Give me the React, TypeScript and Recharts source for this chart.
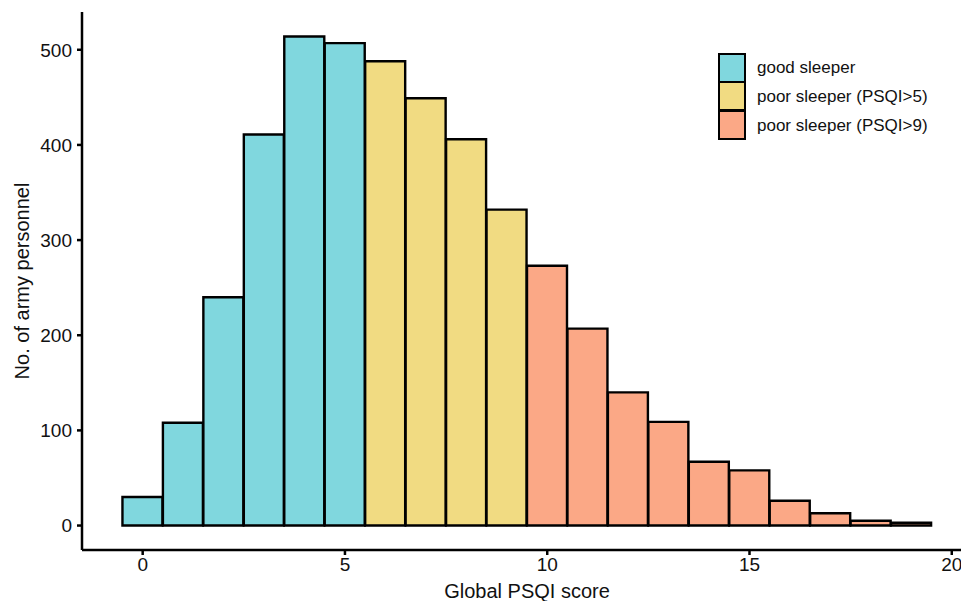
import { BarChart, Bar, XAxis, YAxis, Cell, Legend } from "recharts";

// PSQI score bins (0..19) and counts
const scores = [0, 1, 2, 3, 4, 5, 6, 7, 8, 9, 10, 11, 12, 13, 14, 15, 16, 17, 18, 19];
const counts = [30, 108, 240, 411, 514, 507, 488, 449, 406, 332, 273, 207, 140, 109, 67, 58, 26, 13, 5, 3];

const groupNames = ["good sleeper", "poor sleeper (PSQI>5)", "poor sleeper (PSQI>9)"];
const groupColors = ["#80D7DE", "#F1DB82", "#FBA886"];
// group index of each bin
const groupOf = [0, 0, 0, 0, 0, 0, 1, 1, 1, 1, 2, 2, 2, 2, 2, 2, 2, 2, 2, 2];

const xTicks = [0, 5, 10, 15, 20];
const yTicks = [0, 100, 200, 300, 400, 500];

const data = scores.map((s, i) => ({ score: s, count: counts[i], group: groupOf[i] }));

const font = "'Liberation Sans', Arial, sans-serif";

function LegendBox() {
  return (
    <div style={{ fontFamily: font, fontSize: 17, color: "#111" }}>
      {groupNames.map((name, i) => (
        <div key={name} style={{ display: "flex", alignItems: "center", height: 29 }}>
          <div
            style={{
              boxSizing: "border-box",
              width: 28,
              height: 30,
              marginTop: i === 0 ? 0 : -1,
              background: groupColors[i],
              border: "2.5px solid #000",
            }}
          />
          <span style={{ marginLeft: 11 }}>{name}</span>
        </div>
      ))}
    </div>
  );
}

export default function App() {
  return (
    <div style={{ position: "absolute", left: 0, top: 0, width: 961, height: 601, overflow: "hidden", background: "#fff" }}>
      <BarChart
        width={975}
        height={601}
        data={data}
        margin={{ top: 12, right: 3, bottom: 0, left: 0 }}
        barCategoryGap={0}
        barGap={0}
      >
        <XAxis
          dataKey="score"
          type="number"
          domain={[-1.5, 20.5]}
          ticks={xTicks}
          height={51}
          tickSize={5}
          tickMargin={3}
          axisLine={{ stroke: "#000", strokeWidth: 2.5 }}
          tickLine={{ stroke: "#000", strokeWidth: 2.5 }}
          tick={{ fill: "#111", fontSize: 19, fontFamily: font }}
          label={{ value: "Global PSQI score", position: "insideBottom", offset: 3, fill: "#111", fontSize: 20, fontFamily: font }}
        />
        <YAxis
          type="number"
          domain={[-25.7, 539.7]}
          ticks={yTicks}
          width={82}
          tickSize={5}
          tickMargin={5}
          axisLine={{ stroke: "#000", strokeWidth: 2.5 }}
          tickLine={{ stroke: "#000", strokeWidth: 2.5 }}
          tick={{ fill: "#111", fontSize: 19, fontFamily: font }}
          label={{
            value: "No. of army personnel",
            angle: -90,
            position: "insideLeft",
            offset: 22,
            fill: "#111",
            fontSize: 20,
            fontFamily: font,
            style: { textAnchor: "middle" },
          }}
        />
        <Legend
          layout="horizontal"
          verticalAlign="middle"
          align="center"
          content={() => <LegendBox />}
          wrapperStyle={{ top: 53, left: 718, width: "auto" }}
        />
        <Bar dataKey="count" stroke="#000" strokeWidth={2.4} isAnimationActive={false}>
          {data.map((d) => (
            <Cell key={d.score} fill={groupColors[d.group]} />
          ))}
        </Bar>
      </BarChart>
    </div>
  );
}
